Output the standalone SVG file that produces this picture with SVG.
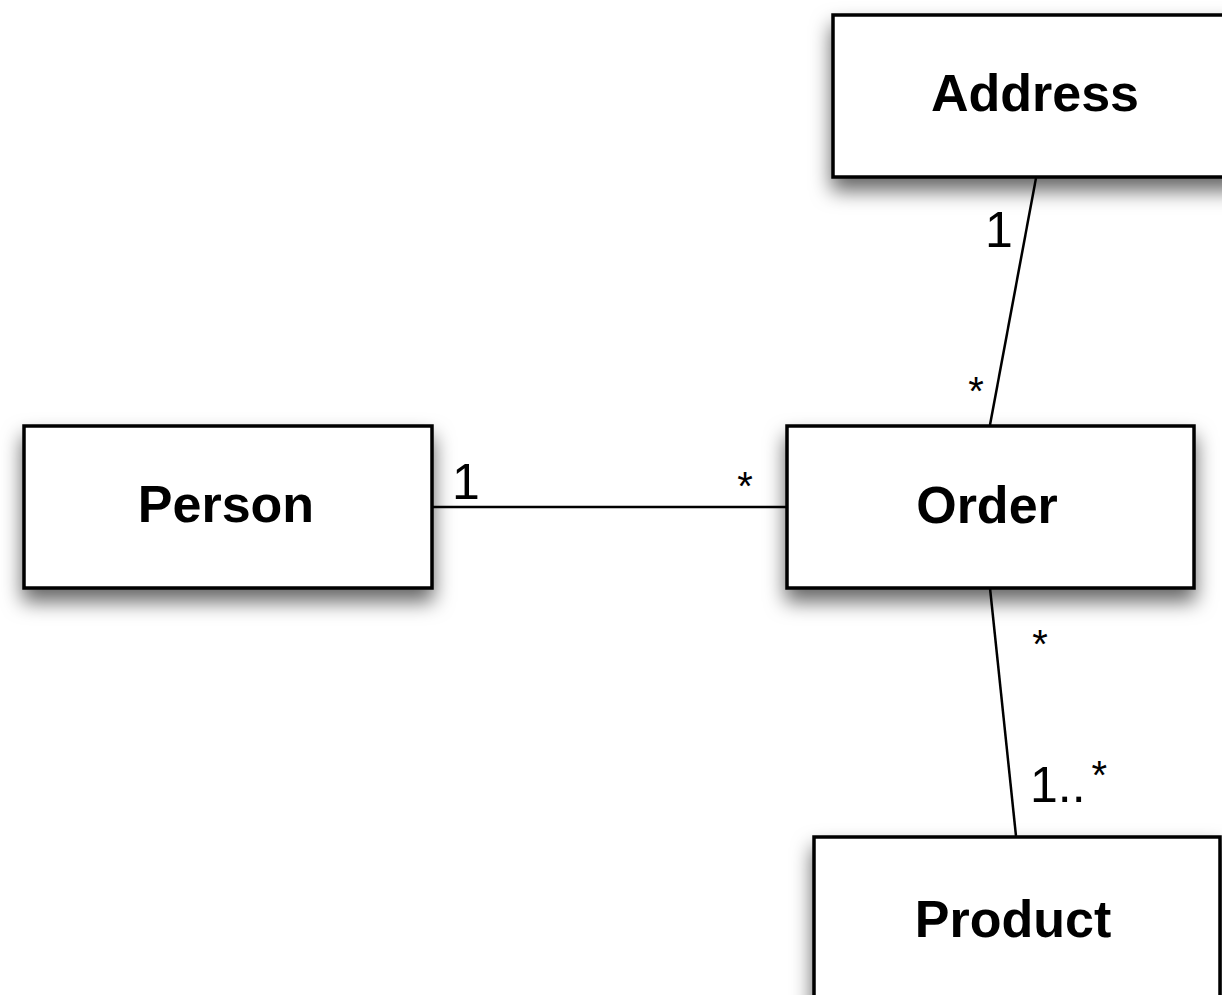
<svg xmlns="http://www.w3.org/2000/svg" width="1222" height="995" viewBox="0 0 1222 995">
<defs>
<filter id="sh" x="-15%" y="-30%" width="130%" height="170%">
<feDropShadow dx="0" dy="12" stdDeviation="10" flood-color="#000" flood-opacity="0.6"/>
</filter>
<style>
.box{fill:#fff;stroke:#000;stroke-width:3.5;filter:url(#sh)}
.name{font-family:"Liberation Sans",Arial,sans-serif;font-weight:bold;font-size:52px;fill:#000;text-anchor:middle}
.lbl{font-family:"Liberation Sans",Arial,sans-serif;font-size:50px;fill:#000}
.star{font-family:"Liberation Sans",Arial,sans-serif;font-size:40px;fill:#000;text-anchor:middle}
.edge{stroke:#000;stroke-width:2.5;fill:none}
</style>
</defs>
<rect width="1222" height="995" fill="#fff"/>
<g id="connectors">
<line class="edge" x1="432" y1="507" x2="787" y2="507"/>
<line class="edge" x1="1036" y1="178" x2="990" y2="425"/>
<line class="edge" x1="990" y1="588" x2="1016" y2="836"/>
<text class="lbl" x="452" y="499">1</text>
<text class="star" x="745" y="500">*</text>
<text class="lbl" x="985" y="247">1</text>
<text class="star" x="976" y="405">*</text>
<text class="star" x="1040" y="658">*</text>
<text class="lbl" x="1030" y="802">1..<tspan font-size="40" dx="6" dy="-13">*</tspan></text>
</g>
<g id="address">
<rect class="box" x="833" y="15" width="408" height="162"/>
<text class="name" x="1035" y="111">Address</text>
</g>
<g id="person">
<rect class="box" x="24" y="426" width="408" height="162"/>
<text class="name" x="226" y="522">Person</text>
</g>
<g id="order">
<rect class="box" x="787" y="426" width="407" height="162"/>
<text class="name" x="987" y="523">Order</text>
</g>
<g id="product">
<rect class="box" x="814" y="837" width="406" height="180"/>
<text class="name" x="1013" y="937">Product</text>
</g>
</svg>
